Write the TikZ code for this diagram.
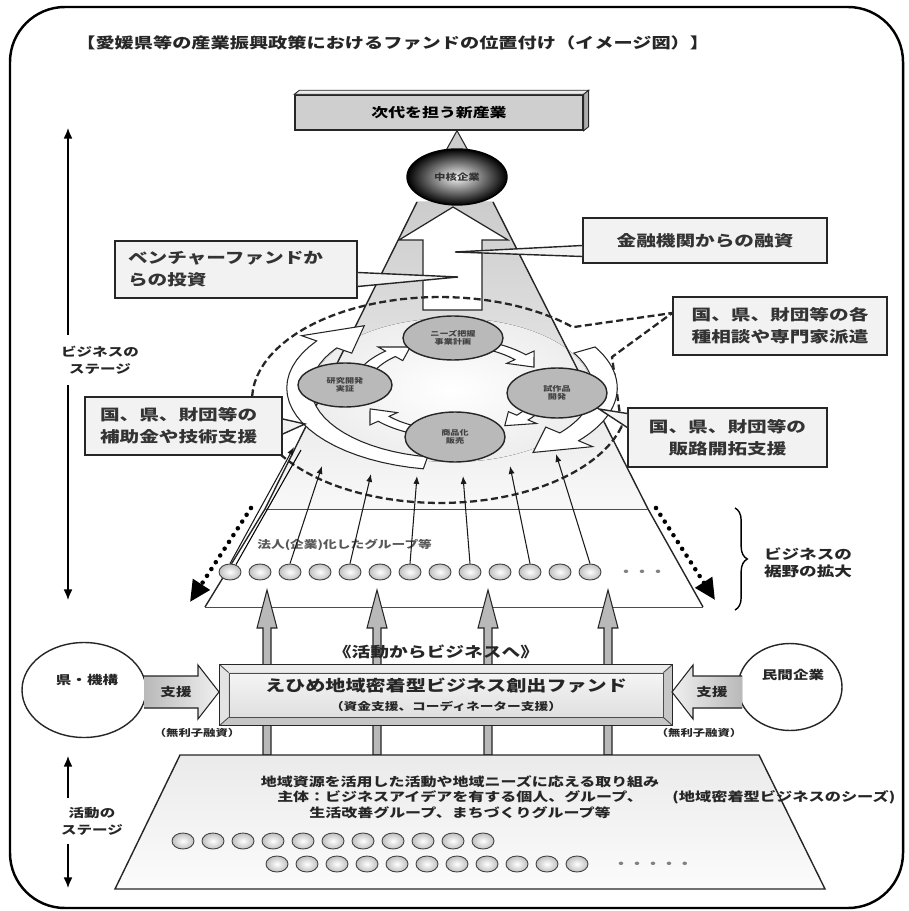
\documentclass[tikz,border=0pt]{standalone}
\usepackage{fontspec}
\newfontfamily\jp[FakeStretch=1.3]{Noto Sans CJK JP}
\usetikzlibrary{arrows.meta, shapes.geometric, decorations.pathreplacing, calc, positioning}
\pgfdeclarelayer{bg}
\pgfsetlayers{bg,main}

% curved block arrow on an ellipse: cx, cy, rx, ry, from, to, tip angle
\newcommand{\bandarrow}[7]{%
  \filldraw[band] plot[domain=#5:#6, samples=24] ({#1+1.08*#3*cos(\x)},{#2+1.08*#4*sin(\x)})
    -- ({#1+1.2*#3*cos(#6)},{#2+1.2*#4*sin(#6)})
    -- ({#1+#3*cos(#7)},{#2+#4*sin(#7)})
    -- ({#1+0.8*#3*cos(#6)},{#2+0.8*#4*sin(#6)})
    -- plot[domain=#6:#5, samples=24] ({#1+0.92*#3*cos(\x)},{#2+0.92*#4*sin(\x)})
    -- cycle;}

\begin{document}
\begin{tikzpicture}[x=0.02cm, y=-0.02cm,
  txt/.style={font=\jp\bfseries, text=black!85, inner sep=0pt},
  callout/.style={draw=black!85, line width=0.9pt, fill=gray!10, text=black!80, inner sep=0pt,
    font=\jp\bfseries\fontsize{8.6}{12.5}\selectfont},
  tail/.style={fill=gray!10, draw=black!85, line width=0.8pt},
  cyc/.style={ellipse, draw=black!85, line width=0.8pt, fill=gray!55, inner sep=0pt, align=center,
    text=black!75, font=\jp\bfseries\fontsize{4}{4.8}\selectfont},
  seed/.style={ellipse, draw=black!75, line width=0.5pt, inner color=white, outer color=gray!50,
    minimum width=0.44cm, minimum height=0.32cm, inner sep=0pt},
  rise/.style={-{Latex[length=4.5pt,width=3.5pt]}, line width=0.6pt, black!90},
  stage/.style={-{Latex[length=6pt,width=5pt]}, line width=0.7pt},
  spread/.style={line width=2.6pt, dash pattern=on 0pt off 4.6pt, line cap=round,
    -{Triangle[length=12pt,width=11pt]}},
  band/.style={fill=white, draw=black!85, line width=0.6pt},
  feed/.style={fill=gray!55, draw=black!85, line width=0.6pt},
  rim/.style={draw=black!85, line width=0.8pt},
  hair/.style={draw=black!70, line width=0.5pt},
  lbl/.style={txt, font=\jp\bfseries\fontsize{6.8}{9.5}\selectfont, align=center},
]
\useasboundingbox (0,0) rectangle (908,911);

% frame and title
\draw[line width=1.4pt, rounded corners=1.1cm] (10,7) rectangle (903,908);
\node[txt, anchor=west, font=\jp\bfseries\fontsize{8.4}{9}\selectfont] (title) at (76,43)
  {【愛媛県等の産業振興政策におけるファンドの位置付け（イメージ図）】};

% stage arrows
\coordinate (bs-top) at (68,128);
\coordinate (bs-bot) at (68,600);
\node[lbl, inner ysep=6pt] (bstage) at (100,360) {ビジネスの\\ステージ};
\draw[stage] (bstage.north -| bs-top) -- (bs-top);
\draw[stage] (bstage.south -| bs-bot) -- (bs-bot);

\coordinate (as-top) at (68,756);
\coordinate (as-bot) at (68,888);
\node[lbl, inner ysep=5pt] (astage) at (92,821) {活動の\\ステージ};
\draw[stage] (astage.north -| as-top) -- (as-top);
\draw[stage] (astage.south -| as-bot) -- (as-bot);

% top box and core company
\node[draw=black!85, line width=0.8pt, fill=gray!38, minimum width=5.76cm, minimum height=0.7cm,
  inner sep=0pt, font=\jp\bfseries\fontsize{7.4}{8}\selectfont] (nextgen) at (439,112.5) {次代を担う新産業};
\filldraw[fill=gray!15, draw=black!85, line width=0.5pt] (nextgen.north west) -- ++(5,-4)
  -- ($(nextgen.north east)+(5,-4)$) -- (nextgen.north east) -- cycle;
\filldraw[fill=gray!65, draw=black!85, line width=0.5pt] (nextgen.north east) -- ++(5,-4)
  -- ($(nextgen.south east)+(5,-4)$) -- (nextgen.south east) -- cycle;
\node[ellipse, minimum width=2cm, minimum height=1.12cm, inner sep=0pt, draw=black, line width=0.8pt,
  inner color=gray!8, outer color=black, text=black!80,
  font=\jp\bfseries\fontsize{5}{6}\selectfont] (core) at (457,177) {中核企業};

% callout boxes
\node[callout, minimum width=4.84cm, minimum height=1.14cm, text width=4.32cm, align=left] (vc)
  at (236,269.5) {ベンチャーファンドか\\らの投資};
\node[callout, minimum width=4.88cm, minimum height=0.9cm] (loan) at (705,240.5) {金融機関からの融資};
\node[callout, minimum width=4.28cm, minimum height=1.16cm, align=center] (advice)
  at (780,326) {国、県、財団等の各\\種相談や専門家派遣};
\node[callout, minimum width=3.98cm, minimum height=1.18cm, align=center] (sales)
  at (727.5,437.5) {国、県、財団等の\\販路開拓支援};
\node[callout, minimum width=3.94cm, minimum height=1.16cm, text width=3.34cm, align=left] (grant)
  at (183.5,426) {国、県、財団等の\\補助金や技術支援};

% business cycle
\node[cyc, minimum width=2cm, minimum height=0.88cm] (c-top) at (453,338) {ニーズ把握\\事業計画};
\node[cyc, minimum width=2cm, minimum height=1cm] (c-right) at (557,393) {試作品\\開発};
\node[cyc, minimum width=2cm, minimum height=1cm] (c-bot) at (455,437) {商品化\\販売};
\node[cyc, minimum width=1.88cm, minimum height=0.88cm] (c-left) at (345,385) {研究開発\\実証};

% groups turned into companies
\foreach \k in {0,...,12}
  \node[seed] (b-\k) at ({230+30*\k},572) {};
\node[txt, text=gray, font=\jp\bfseries\fontsize{7}{8}\selectfont] (b-dots) at (642,573) {・・・};
\node[txt, anchor=west, text=black!65, font=\jp\bfseries\fontsize{6}{7}\selectfont] (corp)
  at (257,545) {法人(企業)化したグループ等};

\foreach \k/\tx/\ty in {0/294/447, 2/322/466, 4/371/474, 6/417/476, 8/463/476, 10/510/466, 12/556/454} {
  \coordinate (r-\k) at (\tx,\ty);
  \draw[rise] (b-\k.north) -- (r-\k);
}
\draw[line width=0.6pt] ($(b-0.north)+(6,1)$) -- ($(r-0)+(7,3)$);

\coordinate (sp-l) at (190,602);
\coordinate (sp-r) at (715,600);
\draw[spread] (251,508) -- (sp-l);
\draw[spread] (656,508) -- (sp-r);

\draw[line width=0.8pt, decorate, decoration={brace, amplitude=7pt}] (735,508) -- (735,610);
\node[txt, align=center, font=\jp\bfseries\fontsize{7.7}{9.8}\selectfont] (wide) at (808,563)
  {ビジネスの\\裾野の拡大};

% support flowing upward
\foreach \x in {267,377,488,608}
  \filldraw[feed] ({\x-4},755) -- ({\x-4},628) -- ({\x-10},628) -- (\x,590)
    -- ({\x+10},628) -- ({\x+4},628) -- ({\x+4},755) -- cycle;

% activity stage
\draw[rim, top color=gray!16, bottom color=gray!3] (180,755) -- (759,755) -- (825,889) -- (115,889) -- cycle;
\node[txt, align=center, font=\jp\bfseries\fontsize{7}{8.8}\selectfont] (acts) at (460,797)
  {地域資源を活用した活動や地域ニーズに応える取り組み\\主体：ビジネスアイデアを有する個人、グループ、\\生活改善グループ、まちづくりグループ等};
\node[txt, anchor=west, font=\jp\bfseries\fontsize{7.1}{8}\selectfont] (seeds) at (672,797)
  {(地域密着型ビジネスのシーズ)};
\foreach \k in {0,...,10}
  \node[seed] (s-\k) at ({183+30*\k},841) {};
\foreach \k in {0,...,10}
  \node[seed] (t-\k) at ({277+30*\k},864) {};
\node[txt, text=gray, font=\jp\bfseries\fontsize{7}{8}\selectfont] (t-dots) at (653,865) {・・・・・};

% fund
\node[txt, font=\jp\bfseries\fontsize{8.2}{9}\selectfont] (shift) at (436,652) {《活動からビジネスへ》};
\node[fill=gray!45, minimum width=9.04cm, minimum height=1.2cm, inner sep=0pt] (fund) at (446,695) {};
\fill[gray!15] (fund.north west) -- (fund.north east) -- ($(fund.north east)+(-9,8)$)
  -- ($(fund.north west)+(9,8)$) -- cycle;
\fill[gray!22] (fund.north west) -- ($(fund.north west)+(9,8)$) -- ($(fund.south west)+(9,-8)$)
  -- (fund.south west) -- cycle;
\draw[rim] (fund.north west) rectangle (fund.south east);
\node[txt, draw=black!70, line width=0.5pt, top color=gray!8, bottom color=gray!25,
  minimum width=8.68cm, minimum height=0.88cm, align=center] (fund-in) at (fund.center)
  {\fontsize{8.8}{9}\selectfont えひめ地域密着型ビジネス創出ファンド\\[-1pt]\fontsize{6}{7}\selectfont （資金支援、コーディネーター支援）};
\foreach \a in {north west,north east,south west,south east}
  \draw[line width=0.5pt, black!70] (fund.\a) -- (fund-in.\a);

\node[ellipse, draw=black!85, line width=0.8pt, fill=white, minimum width=2.48cm, minimum height=1.9cm,
  inner sep=0pt] (pref) at (84,690) {};
\node[lbl] (pref-t) at (87,680) {県・機構};
\node[ellipse, draw=black!85, line width=0.8pt, fill=white, minimum width=2.08cm, minimum height=1.74cm,
  inner sep=0pt] (priv) at (790,687) {};
\node[lbl] (priv-t) at (793,675) {民間企業};

\filldraw[draw=black!85, line width=0.6pt, left color=gray!55, right color=gray!12]
  (144,676) -- (198,676) -- (198,665) -- (219,692) -- (198,719) -- (198,708) -- (144,708);
\filldraw[draw=black!85, line width=0.6pt, left color=gray!12, right color=gray!55]
  (742,676) -- (693,676) -- (693,665) -- (672,692) -- (693,719) -- (693,708) -- (742,708);
\node[lbl] (aid-l) at (176,692) {支援};
\node[lbl] (aid-r) at (712,692) {支援};
\node[txt, font=\jp\bfseries\fontsize{5.4}{6}\selectfont] (lend-l) at (197,733) {（無利子融資）};
\node[txt, font=\jp\bfseries\fontsize{5.4}{6}\selectfont] (lend-r) at (699,733) {（無利子融資）};

% callout tails
\filldraw[tail] ($(vc.east)+(0,3)$) -- (458,277) -- ($(vc.east)+(0,17)$);
\filldraw[tail] ($(loan.west)+(0,5)$) -- (455,252) -- ($(loan.west)+(0,16)$);
\filldraw[tail] ($(sales.west)+(0,-24)$) -- (599,409) -- ($(sales.west)+(0,-10)$);
\filldraw[tail] ($(grant.east)+(0,-7)$) -- (305,424) -- ($(grant.east)+(0,8)$);

\begin{pgfonlayer}{bg}
  % cone of business growth
  \fill[top color=gray!40, bottom color=gray!5] (417,202) -- (493,202) -- (648,509) -- (265,509) -- cycle;
  \fill[inner color=white, outer color=gray!14] (452,390) ellipse [x radius=2.8cm, y radius=1.44cm];
  \fill[white] (265,509) -- (648,509) -- (703,607) -- (205,607) -- cycle;
  \draw[rim] (417,202) -- (265,509) -- (205,607);
  \draw[rim] (493,202) -- (648,509) -- (703,607);
  \draw[hair] (265,509) -- (648,509);
  \draw[hair] (205,607) -- (703,607);
  \filldraw[fill=white, draw=black!85, line width=0.7pt] (453,207) -- (508,240) -- (482,240)
    -- (482,310) -- (423,310) -- (423,240) -- (399,240) -- cycle;
  \filldraw[fill=gray!40, draw=black!85, line width=0.6pt] (nextgen.south -| core)
    -- ($(core.north)+(-12,4)$) -- ($(core.north)+(12,4)$) -- cycle;
  % advice reaching the cycle
  \draw[line width=1.3pt, dash pattern=on 4pt off 2pt, black!85]
    plot[domain=15:315, samples=80] ({440+188*cos(\x)},{400+103*sin(\x)})
    -- ($(advice.west)+(0,-13)$) -- (612,357) -- cycle;
  % cycle arrows
  \bandarrow{452}{388}{153}{76}{100}{215}{235}
  \bandarrow{452}{388}{153}{76}{-30}{40}{58}
  \bandarrow{452}{388}{92}{46}{200}{228}{243}
  \bandarrow{452}{388}{92}{46}{290}{318}{333}
  \bandarrow{452}{388}{92}{46}{20}{40}{55}
  \bandarrow{452}{388}{92}{46}{110}{138}{153}
\end{pgfonlayer}
\end{tikzpicture}
\end{document}
